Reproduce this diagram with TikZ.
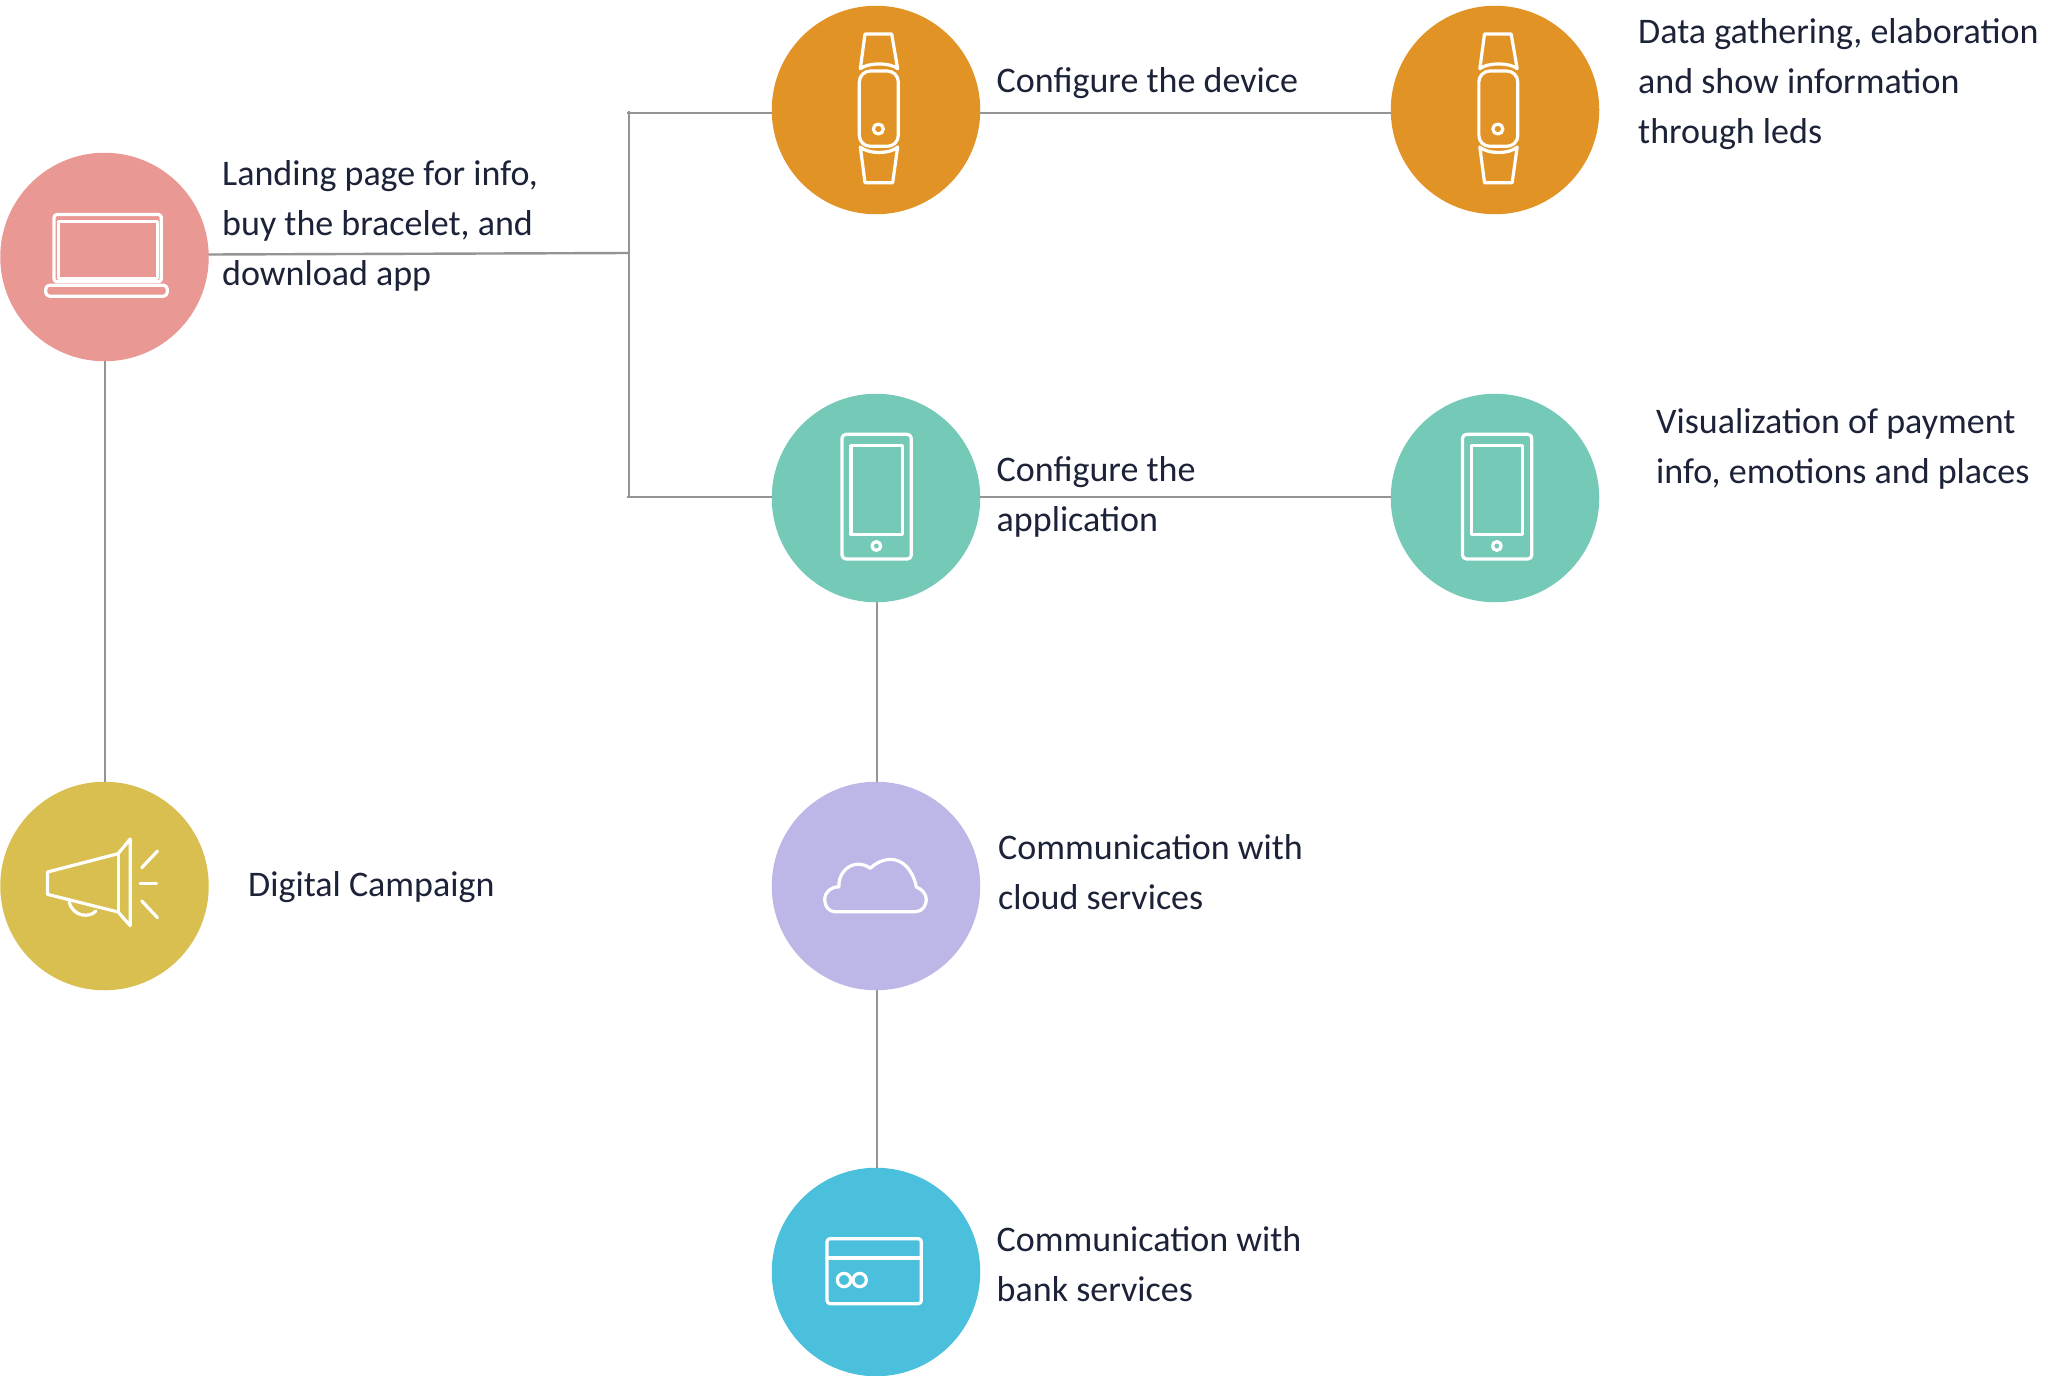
\documentclass[tikz,border=0pt]{standalone}
\usepackage{fontspec}
\setmainfont{Carlito}
\definecolor{cpink}{HTML}{E99893}
\definecolor{corange}{HTML}{E29325}
\definecolor{cteal}{HTML}{75C9B7}
\definecolor{cyellow}{HTML}{D8BF50}
\definecolor{cpurple}{HTML}{BDB7E8}
\definecolor{cblue}{HTML}{4BC0DC}
\definecolor{ctext}{HTML}{1C2238}
\definecolor{cwire}{HTML}{949494}
\tikzset{
  disc/.style={circle,minimum size=208.5pt,inner sep=0pt,draw=none,fill=#1},
  wire/.style={draw=cwire,line width=2.4pt},
  label/.style={anchor=base west,align=left,inner sep=0pt,text=ctext,font=\fontsize{36}{50}\selectfont},
  iconline/.style={draw=white,line width=3.2pt,line join=round,line cap=round},
  laptopicon/.pic={
    \begin{scope}[x=.3333pt,y=-.3333pt,shift={(-311.5,-320.5)}]
      \draw[iconline,rounded corners=3pt] (160,395) -- (160,193) -- (482,193) -- (482,395) -- cycle;
      \draw[iconline] (173,213) rectangle (470,385);
      \draw[iconline,rounded corners=4pt] (135,405) rectangle (500,438);
    \end{scope}},
  watchicon/.pic={
    \begin{scope}[x=.3333pt,y=-.3333pt,shift={(-318,-329)}]
      \draw[iconline] (271,205) -- (285,101) -- (365,101) -- (383,205) .. controls (360,186) and (295,186) .. (271,205) -- cycle;
      \draw[iconline,rounded corners=11pt] (268,212) rectangle (385,438);
      \draw[iconline] (325,386) circle[radius=15];
      \draw[iconline] (271,440) -- (285,547) -- (368,547) -- (383,440) .. controls (360,462) and (295,462) .. (271,440) -- cycle;
    \end{scope}},
  phoneicon/.pic={
    \begin{scope}[x=.3333pt,y=-.3333pt,shift={(-319,-322)}]
      \draw[iconline,rounded corners=4pt] (217,131) rectangle (425,505);
      \draw[iconline] (244,165) rectangle (398,432);
      \draw[iconline] (320,466) circle[radius=13];
    \end{scope}},
  megaicon/.pic={
    \begin{scope}[x=.3333pt,y=-.3333pt,shift={(-311,-317)}]
      \draw[iconline] (140,275) -- (352,220) -- (388,176) -- (388,436) -- (352,395) -- (140,342) -- cycle;
      \draw[iconline] (354,220) -- (354,395);
      \draw[iconline] (205,365) .. controls (218,412) and (268,412) .. (285,392);
      \draw[iconline] (423,262) -- (470,212);
      \draw[iconline] (418,310) -- (467,310);
      \draw[iconline] (423,362) -- (470,412);
    \end{scope}},
  cloudicon/.pic={
    \begin{scope}[x=.3333pt,y=-.3333pt,shift={(-319,-317)}]
      \draw[iconline] (195,394) -- (438,394) .. controls (458,394) and (470,375) .. (470,358)
        .. controls (470,340) and (455,325) .. (440,320)
        .. controls (430,270) and (400,237) .. (362,237)
        .. controls (340,237) and (315,250) .. (302,264)
        .. controls (290,255) and (275,250) .. (260,252)
        .. controls (230,255) and (205,285) .. (208,320)
        .. controls (185,318) and (165,335) .. (165,358)
        .. controls (165,378) and (178,394) .. (195,394) -- cycle;
    \end{scope}},
  cardicon/.pic={
    \begin{scope}[x=.3333pt,y=-.3333pt,shift={(-319,-336)}]
      \draw[iconline,rounded corners=3pt] (172,236) rectangle (455,431);
      \draw[iconline] (172,294) -- (455,294);
      \draw[iconline] (223,360) circle[radius=20];
      \draw[iconline] (270,360) circle[radius=20];
    \end{scope}},
}
\begin{document}
\begin{tikzpicture}[x=1pt,y=-1pt]
\useasboundingbox (0,0) rectangle (2048,1376);
\fill[white] (0,0) rectangle (2048,1376);
% bus junctions
\coordinate (bustop) at (629,111);
\coordinate (busbot) at (629,497.5);
\coordinate (bustopleft) at (627,113);
\coordinate (busbotleft) at (627,497);
\coordinate (busmid) at (629,253);
\coordinate (landout) at (208,254.5);
\coordinate (landcentre) at (104.5,257);
\coordinate (appcentre) at (876,498);
\coordinate (cloudcentre) at (876,886);
\coordinate (campcentre) at (104.5,886);
\coordinate (bankcentre) at (876,1272);
% connectors behind the discs
\draw[wire] (bustop) -- (busbot);
\draw[wire] (landout) -- (busmid);
\draw[wire] ([xshift=.5pt]landcentre) -- ([xshift=.5pt]campcentre);
\draw[wire] ([xshift=.7pt]appcentre) -- ([xshift=.7pt]cloudcentre);
\draw[wire] ([xshift=.7pt]cloudcentre) -- ([xshift=.7pt]bankcentre);
% discs
\node[disc=cpink]   (landing) at (landcentre) {};
\node[disc=cyellow] (campaign) at (campcentre) {};
\node[disc=corange] (device) at (876,110) {};
\node[disc=corange] (devout) at (1495,110) {};
\node[disc=cteal]   (app) at (appcentre) {};
\node[disc=cteal]   (appout) at (1495,498) {};
\node[disc=cpurple] (cloud) at (cloudcentre) {};
\node[disc=cblue]   (bank) at (bankcentre) {};
\draw[wire] (bustopleft) -- (device.west |- bustopleft);
\draw[wire] (busbotleft) -- (app.west |- busbotleft);
\draw[wire] (device.east |- bustopleft) -- (devout.west |- bustopleft);
\draw[wire] (app.east |- busbotleft) -- (appout.west |- busbotleft);
% icons
\pic at (landing) {laptopicon};
\pic at (device) {watchicon};
\pic at ([xshift=.5pt]devout.center) {watchicon};
\pic at (app) {phoneicon};
\pic at ([xshift=1.5pt]appout.center) {phoneicon};
\pic at (campaign) {megaicon};
\pic at (cloud) {cloudicon};
\pic at (bank) {cardicon};
% labels (y is the baseline of the last line)
\node[label] (t1) at (222,285) {Landing page for info,\\buy the bracelet, and\\download app};
\node[label] (t2) at (248,896.5) {Digital Campaign};
\node[label] (t3) at (996.5,92) {Configure the device};
\node[label] (t4) at (996.5,531) {Configure the\\application};
\node[label] (t5) at (998,909) {Communication with\\cloud services};
\node[label] (t6) at (996.5,1301) {Communication with\\bank services};
\node[label] (t7) at (1638,143) {Data gathering, elaboration\\and show information\\through leds};
\node[label] (t8) at (1656,483) {Visualization of payment\\info, emotions and places};
\end{tikzpicture}
\end{document}
